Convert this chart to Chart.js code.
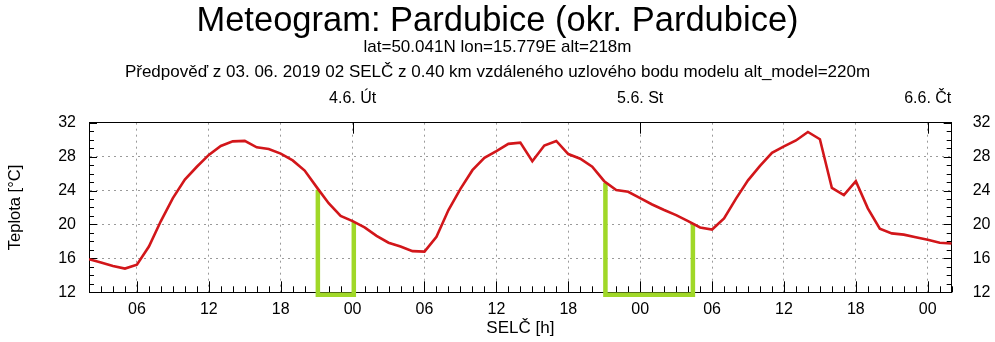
<!DOCTYPE html>
<html><head><meta charset="utf-8">
<script src="https://cdn.jsdelivr.net/npm/chart.js@4/dist/chart.umd.min.js"></script>
<style>html,body{margin:0;padding:0;background:#fff}canvas{display:block}</style>
</head><body>
<canvas id="c" width="995" height="342"></canvas>
<script>
// hours since 3.6.2019 00:00 SELČ
const hours = [2,3,4,5,6,7,8,9,10,11,12,13,14,15,16,17,18,19,20,21,22,23,24,25,26,27,28,29,30,31,32,33,34,35,36,37,38,39,40,41,42,43,44,45,46,47,48,49,50,51,52,53,54,55,56,57,58,59,60,61,62,63,64,65,66,67,68,69,70,71,72,73,74];
const temperature = [15.9,15.5,15.1,14.8,15.25,17.4,20.4,23.1,25.3,26.8,28.2,29.25,29.8,29.85,29.1,28.9,28.35,27.55,26.35,24.4,22.5,21.0,20.4,19.65,18.65,17.85,17.4,16.85,16.8,18.55,21.7,24.2,26.4,27.85,28.65,29.5,29.65,27.45,29.3,29.85,28.3,27.75,26.8,25.1,24.05,23.85,23.1,22.35,21.7,21.1,20.4,19.65,19.4,20.7,23.05,25.2,26.9,28.45,29.2,29.9,30.9,30.05,24.3,23.45,25.1,21.9,19.5,18.95,18.8,18.5,18.2,17.85,17.75];
const bracket1X = [21.1,21.1,24.1,24.1];
const bracket1Y = [24.1,11.7,11.7,20.3];
const bracket2X = [45.1,45.1,52.4,52.4];
const bracket2Y = [24.9,11.7,11.7,20.1];
const xTickHours = [6,12,18,24,30,36,42,48,54,60,66,72];
const xTickLabels = ['06','12','18','00','06','12','18','00','06','12','18','00'];
const dayTickHours = [24,48,72];
const dayLabels = ['4.6. Út','5.6. St','6.6. Čt'];
const titleText = 'Meteogram: Pardubice (okr. Pardubice)';
const subtitleLines = ['lat=50.041N lon=15.779E alt=218m','Předpověď z 03. 06. 2019 02 SELČ z 0.40 km vzdáleného uzlového bodu modelu alt_model=220m'];
const yTitle = 'Teplota [°C]';
const xTitle = 'SELČ [h]';

const FONT = "'Liberation Sans', Arial, sans-serif";
Chart.defaults.font.family = FONT;
Chart.defaults.color = '#000';

const pairs = (xs, ys) => xs.map((x, i) => ({x, y: ys[i]}));

const innerTicks = {
  id: 'innerTicks',
  beforeDatasetsDraw(chart) {
    const {ctx, chartArea: a, scales: {x, y}} = chart;
    ctx.save();
    ctx.strokeStyle = '#000';
    ctx.lineWidth = 1;
    ctx.beginPath();
    for (let h = Math.ceil(x.min); h <= x.max; h++) {
      const px = Math.round(x.getPixelForValue(h)) + 0.5;
      const len = xTickHours.includes(h) ? 11 : 6;
      ctx.moveTo(px, a.bottom); ctx.lineTo(px, a.bottom - len);
    }
    dayTickHours.forEach(h => {
      const px = Math.round(x.getPixelForValue(h)) + 0.5;
      ctx.moveTo(px, a.top); ctx.lineTo(px, a.top + 11);
    });
    for (let v = y.min; v <= y.max; v++) {
      const py = Math.round(y.getPixelForValue(v)) + 0.5;
      const len = (v % 4 === 0) ? 8 : 5;
      ctx.moveTo(a.left, py); ctx.lineTo(a.left + len, py);
      ctx.moveTo(a.right, py); ctx.lineTo(a.right - len, py);
    }
    ctx.stroke();
    ctx.restore();
  }
};

const gridColor = '#9a9a9a';

new Chart(document.getElementById('c'), {
  type: 'line',
  data: {
    datasets: [
      {data: pairs(hours, temperature), borderColor: 'rgb(210,22,26)', borderWidth: 2.6, pointRadius: 0, tension: 0, fill: false, order: 1},
      {data: pairs(bracket1X, bracket1Y), borderColor: 'rgb(160,216,40)', borderWidth: 4.5, pointRadius: 0, tension: 0, fill: false, clip: false, borderJoinStyle: 'miter', order: 2},
      {data: pairs(bracket2X, bracket2Y), borderColor: 'rgb(160,216,40)', borderWidth: 4.5, pointRadius: 0, tension: 0, fill: false, clip: false, borderJoinStyle: 'miter', order: 2}
    ]
  },
  options: {
    responsive: false,
    animation: false,
    devicePixelRatio: 1,
    layout: {padding: 0},
    plugins: {
      legend: {display: false},
      tooltip: {enabled: false},
      title: {display: true, text: titleText, color: '#000', font: {size: 34.5, weight: 'normal', lineHeight: 0.8}, padding: {top: 7.2, bottom: 0}},
      subtitle: {display: true, text: subtitleLines, color: '#000', font: {size: 17, weight: 'normal', lineHeight: 1.47}, padding: {top: 0.5, bottom: 0}}
    },
    scales: {
      x: {
        type: 'linear', position: 'bottom', min: 2, max: 74,
        afterBuildTicks: s => { s.ticks = xTickHours.map(v => ({value: v})); },
        afterFit: s => { s.height = 49.7; },
        ticks: {autoSkip: false, maxRotation: 0, padding: 8, font: {size: 16}, color: '#000',
          callback: v => xTickLabels[xTickHours.indexOf(v)]},
        grid: {color: gridColor, lineWidth: 1, drawTicks: false},
        border: {display: true, color: '#000', width: 1, dash: [2, 4]},
        title: {display: true, text: xTitle, color: '#000', font: {size: 17}, padding: {top: 0, bottom: 3.5}}
      },
      x2: {
        type: 'linear', position: 'top', min: 2, max: 74,
        afterBuildTicks: s => { s.ticks = dayTickHours.map(v => ({value: v})); },
        afterFit: s => { s.height = 37.4; },
        ticks: {autoSkip: false, maxRotation: 0, padding: 6, font: {size: 16}, color: '#000',
          callback: v => dayLabels[dayTickHours.indexOf(v)]},
        grid: {display: false},
        border: {display: true, color: '#000', width: 1}
      },
      y: {
        type: 'linear', position: 'left', min: 12, max: 32,
        afterFit: s => { s.width = 89; },
        ticks: {stepSize: 4, padding: 13, font: {size: 16}, color: '#000'},
        grid: {drawTicks: false, lineWidth: 1,
          color: c => (c.tick && (c.tick.value === 12 || c.tick.value === 32)) ? 'rgba(0,0,0,0)' : gridColor},
        border: {display: true, color: '#000', width: 1, dash: [2, 4]},
        title: {display: true, text: yTitle, color: '#000', font: {size: 16.5}, padding: {top: 5.2, bottom: 0}}
      },
      y2: {
        type: 'linear', position: 'right', min: 12, max: 32,
        afterFit: s => { s.width = 43.3; },
        ticks: {stepSize: 4, padding: 13, font: {size: 16}, color: '#000'},
        grid: {display: false},
        border: {display: true, color: '#000', width: 1}
      }
    }
  },
  plugins: [innerTicks]
});
</script>
</body></html>
